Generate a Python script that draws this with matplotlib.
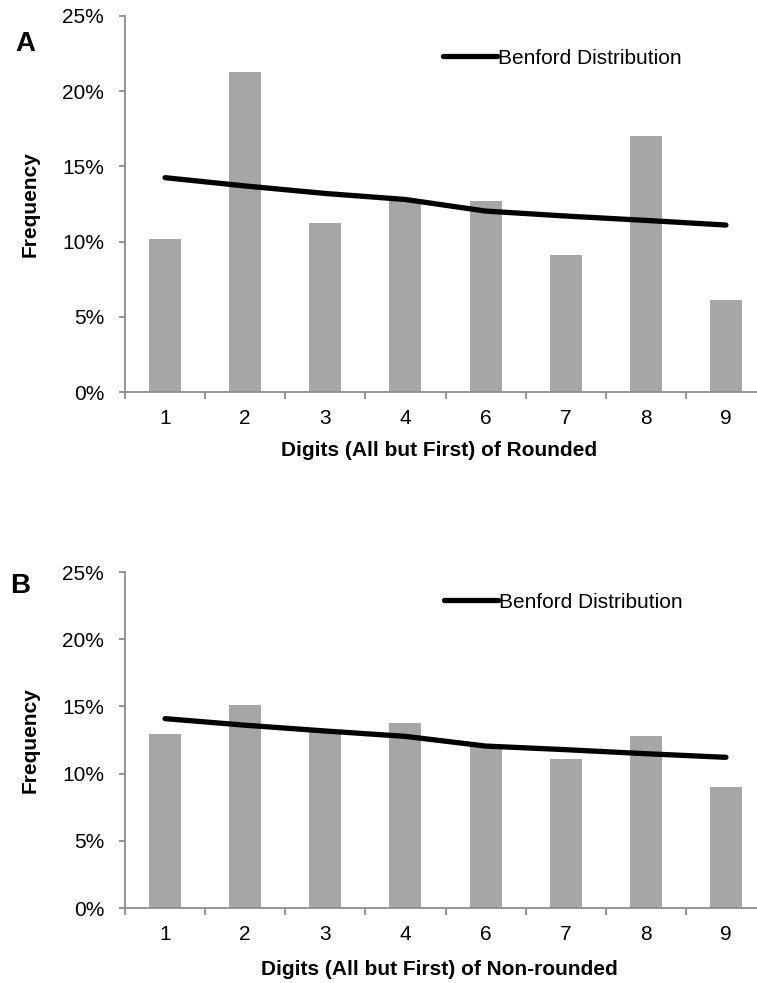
import matplotlib
matplotlib.use("Agg")
import matplotlib.pyplot as plt
import numpy as np

categories = ['1', '2', '3', '4', '6', '7', '8', '9']
rounded_freq = [10.15, 21.28, 11.24, 12.8, 12.72, 9.11, 17.0, 6.09]
benford_a = [14.25, 13.7, 13.2, 12.8, 12.03, 11.7, 11.41, 11.1]
nonrounded_freq = [12.97, 15.08, 13.1, 13.74, 12.1, 11.06, 12.77, 8.98]
benford_b = [14.09, 13.6, 13.17, 12.77, 12.05, 11.78, 11.48, 11.21]
yticks = [0, 5, 10, 15, 20, 25]
ytick_labels = ['0%', '5%', '10%', '15%', '20%', '25%']
xlabel_a = 'Digits (All but First) of Rounded'
xlabel_b = 'Digits (All but First) of Non-rounded'
legend_label = 'Benford Distribution'

plt.rcParams['font.family'] = ['Liberation Sans', 'DejaVu Sans']

W, H = 757, 983
fig = plt.figure(figsize=(W / 100, H / 100), dpi=100)

BAR = '#A6A6A6'
SPINE = '#8C8C8C'
FS = 15


def make_panel(top_px, bottom_px, bars, line, xlabel, xlabel_y, letter, letter_xy, leg_xy):
    left_px, right_px = 125, 766
    ax = fig.add_axes([left_px / W, 1 - bottom_px / H,
                       (right_px - left_px) / W, (bottom_px - top_px) / H])
    x = np.arange(len(categories))
    ax.bar(x, bars, width=0.4, color=BAR, zorder=2)
    ax.plot(x, line, color='black', lw=3.8, solid_capstyle='round',
            solid_joinstyle='round', zorder=3, label=legend_label)
    ax.set_xlim(-0.5, len(categories) - 0.5)
    ax.set_ylim(0, 25)
    for s in ['top', 'right']:
        ax.spines[s].set_visible(False)
    for s in ['left', 'bottom']:
        ax.spines[s].set_color(SPINE)
        ax.spines[s].set_linewidth(1.3)
    ax.set_yticks(yticks)
    ax.set_yticklabels(ytick_labels)
    ax.tick_params(axis='y', direction='out', length=4, width=1.3,
                   color=SPINE, labelsize=FS, pad=11)
    ax.set_xticks(x)
    ax.set_xticklabels(categories)
    ax.set_xticks(np.arange(-0.5, len(categories) + 0.5, 1), minor=True)
    ax.tick_params(axis='x', which='major', length=0, labelsize=FS, pad=12)
    ax.tick_params(axis='x', which='minor', direction='out', length=5,
                   width=1.3, color=SPINE)
    ax.set_xlabel(xlabel, fontsize=FS, fontweight='bold')
    ax.xaxis.set_label_coords(0.49, xlabel_y)
    ax.set_ylabel('Frequency', fontsize=FS, fontweight='bold')
    ax.yaxis.set_label_coords(-0.133, 0.5)
    fig.text(letter_xy[0] / W, 1 - letter_xy[1] / H, letter, fontsize=20,
             fontweight='bold', ha='center', va='center')
    ax.legend(loc='center left', bbox_to_anchor=(leg_xy[0] / W, 1 - leg_xy[1] / H),
              bbox_transform=fig.transFigure, frameon=False, fontsize=FS,
              handlelength=2.6, handletextpad=0.05, borderpad=0, borderaxespad=0)
    return ax


make_panel(16, 392, rounded_freq, benford_a, xlabel_a, -0.13, 'A', (25, 44), (443, 58))
make_panel(572, 908, nonrounded_freq, benford_b, xlabel_b, -0.155, 'B', (20, 586), (444, 602))

fig.savefig('out.png', dpi=100)
